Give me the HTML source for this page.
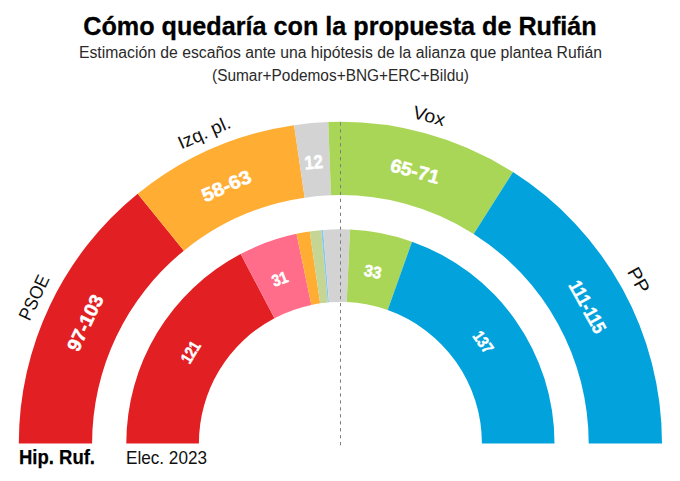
<!DOCTYPE html>
<html><head><meta charset="utf-8"><style>html,body{margin:0;padding:0;background:#fff;width:680px;height:481px;overflow:hidden}</style></head>
<body><svg width="680" height="481" viewBox="0 0 680 481" style="display:block;font-family:'Liberation Sans',sans-serif">
<rect width="680" height="481" fill="#fff"/>
<text x="340" y="35" text-anchor="middle" font-size="25.5" font-weight="700" fill="#000" stroke="#000" stroke-width="0.3" textLength="513.5" lengthAdjust="spacingAndGlyphs">Cómo quedaría con la propuesta de Rufián</text>
<text x="340.5" y="58.3" text-anchor="middle" font-size="16" fill="#2a2a2a" textLength="523" lengthAdjust="spacingAndGlyphs">Estimación de escaños ante una hipótesis de la alianza que plantea Rufián</text>
<text x="340.5" y="81" text-anchor="middle" font-size="16" fill="#2a2a2a" textLength="257" lengthAdjust="spacingAndGlyphs">(Sumar+Podemos+BNG+ERC+Bildu)</text>
<path d="M18.80,443.40 A321.6,321.6 0 0 1 137.66,193.75 L183.87,250.65 A248.3,248.3 0 0 0 92.10,443.40 Z" fill="#E22023"/><path d="M137.66,193.75 A321.6,321.6 0 0 1 294.12,125.15 L304.67,197.68 A248.3,248.3 0 0 0 183.87,250.65 Z" fill="#FFAD33"/><path d="M294.12,125.15 A321.6,321.6 0 0 1 328.26,122.03 L331.02,195.28 A248.3,248.3 0 0 0 304.67,197.68 Z" fill="#D3D3D3"/><path d="M328.26,122.03 A321.6,321.6 0 0 1 513.01,172.05 L473.67,233.90 A248.3,248.3 0 0 0 331.02,195.28 Z" fill="#A9D656"/><path d="M513.01,172.05 A321.6,321.6 0 0 1 662.00,443.40 L588.70,443.40 A248.3,248.3 0 0 0 473.67,233.90 Z" fill="#02A2DC"/>
<path d="M126.30,443.40 A214.1,214.1 0 0 1 240.64,253.96 L274.47,318.20 A141.5,141.5 0 0 0 198.90,443.40 Z" fill="#E22023"/><path d="M240.64,253.96 A214.1,214.1 0 0 1 296.51,233.85 L311.39,304.90 A141.5,141.5 0 0 0 274.47,318.20 Z" fill="#FF6D8A"/><path d="M296.51,233.85 A214.1,214.1 0 0 1 309.76,231.50 L320.15,303.36 A141.5,141.5 0 0 0 311.39,304.90 Z" fill="#FFAD33"/><path d="M309.76,231.50 A214.1,214.1 0 0 1 321.21,230.16 L327.72,302.47 A141.5,141.5 0 0 0 320.15,303.36 Z" fill="#C5D593"/><path d="M321.21,230.16 A214.1,214.1 0 0 1 323.12,230.00 L328.98,302.36 A141.5,141.5 0 0 0 327.72,302.47 Z" fill="#86C7F0"/><path d="M323.12,230.00 A214.1,214.1 0 0 1 350.01,229.52 L346.75,302.04 A141.5,141.5 0 0 0 328.98,302.36 Z" fill="#D3D3D3"/><path d="M350.01,229.52 A214.1,214.1 0 0 1 412.02,241.63 L387.73,310.05 A141.5,141.5 0 0 0 346.75,302.04 Z" fill="#A9D656"/><path d="M412.02,241.63 A214.1,214.1 0 0 1 554.50,443.40 L481.90,443.40 A141.5,141.5 0 0 0 387.73,310.05 Z" fill="#02A2DC"/>
<line x1="340.5" y1="122.3" x2="340.5" y2="445.5" stroke="#7d7d7d" stroke-width="1" stroke-dasharray="3.3 3.65"/>
<text transform="translate(39.74,300.25) rotate(-64.54)" x="0" y="0" text-anchor="middle" font-size="18.5" font-weight="400" fill="#111" textLength="47.5" lengthAdjust="spacingAndGlyphs">PSOE</text><text transform="translate(206.67,138.43) rotate(-23.68)" x="0" y="0" text-anchor="middle" font-size="18.5" font-weight="400" fill="#111" textLength="55.5" lengthAdjust="spacingAndGlyphs">Izq. pl.</text><text transform="translate(427.42,121.97) rotate(15.15)" x="0" y="0" text-anchor="middle" font-size="18.5" font-weight="400" fill="#111" textLength="32.5" lengthAdjust="spacingAndGlyphs">Vox</text><text transform="translate(633.00,283.13) rotate(61.23)" x="0" y="0" text-anchor="middle" font-size="18.5" font-weight="400" fill="#111" textLength="26.5" lengthAdjust="spacingAndGlyphs">PP</text>
<text transform="translate(91.11,325.58) rotate(-64.54)" x="0" y="0" text-anchor="middle" font-size="19" font-weight="700" fill="#fff" textLength="60" lengthAdjust="spacingAndGlyphs" stroke="#fff" stroke-width="0.5">97-103</text><text transform="translate(228.96,191.95) rotate(-23.68)" x="0" y="0" text-anchor="middle" font-size="19" font-weight="700" fill="#fff" textLength="52" lengthAdjust="spacingAndGlyphs" stroke="#fff" stroke-width="0.5">58-63</text><text transform="translate(314.18,168.74) rotate(-5.22)" x="0" y="0" text-anchor="middle" font-size="19" font-weight="700" fill="#fff" textLength="18.5" lengthAdjust="spacingAndGlyphs" stroke="#fff" stroke-width="0.5">12</text><text transform="translate(413.26,177.46) rotate(15.15)" x="0" y="0" text-anchor="middle" font-size="19" font-weight="700" fill="#fff" textLength="50" lengthAdjust="spacingAndGlyphs" stroke="#fff" stroke-width="0.5">65-71</text><text transform="translate(581.75,309.95) rotate(61.23)" x="0" y="0" text-anchor="middle" font-size="19" font-weight="700" fill="#fff" textLength="57" lengthAdjust="spacingAndGlyphs" stroke="#fff" stroke-width="0.5">111-115</text><text transform="translate(195.48,355.11) rotate(-58.89)" x="0" y="0" text-anchor="middle" font-size="16.5" font-weight="700" fill="#fff" textLength="22.5" lengthAdjust="spacingAndGlyphs" stroke="#fff" stroke-width="0.5">121</text><text transform="translate(281.78,284.32) rotate(-19.80)" x="0" y="0" text-anchor="middle" font-size="16.5" font-weight="700" fill="#fff" textLength="16" lengthAdjust="spacingAndGlyphs" stroke="#fff" stroke-width="0.5">31</text><text transform="translate(371.81,277.25) rotate(11.06)" x="0" y="0" text-anchor="middle" font-size="16.5" font-weight="700" fill="#fff" textLength="17.5" lengthAdjust="spacingAndGlyphs" stroke="#fff" stroke-width="0.5">33</text><text transform="translate(478.56,345.43) rotate(54.77)" x="0" y="0" text-anchor="middle" font-size="16.5" font-weight="700" fill="#fff" textLength="23" lengthAdjust="spacingAndGlyphs" stroke="#fff" stroke-width="0.5">137</text>
<text x="19" y="464.2" font-size="20" font-weight="700" fill="#000" stroke="#000" stroke-width="0.25" textLength="76" lengthAdjust="spacingAndGlyphs">Hip. Ruf.</text>
<text x="126" y="464" font-size="18.5" font-weight="400" fill="#111" textLength="81" lengthAdjust="spacingAndGlyphs">Elec. 2023</text>
</svg></body></html>
